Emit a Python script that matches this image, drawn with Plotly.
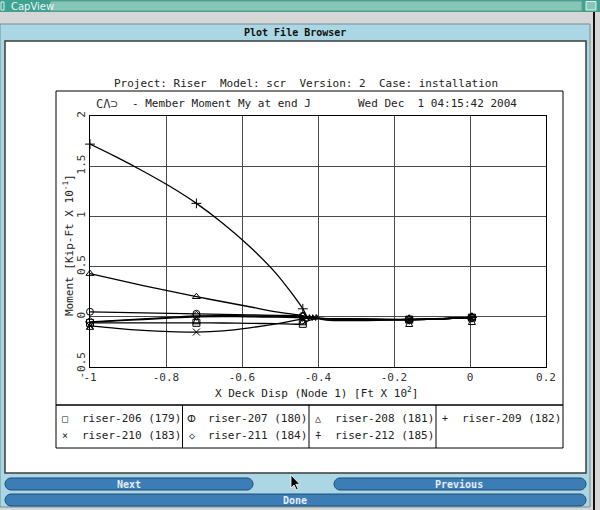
import plotly.graph_objects as go

# ---------------- data ----------------
X_DISP = [-1.0, -0.93, -0.86, -0.79, -0.72, -0.65, -0.58, -0.51, -0.44,
          -0.432, -0.424, -0.423, -0.415, -0.414, -0.406, -0.405, -0.395,
          -0.16, 0.005]
MARKER_IDX = [0, 4, 8, 17, 18]

SERIES_NAMES = ["riser-206 (179)", "riser-207 (180)", "riser-208 (181)", "riser-209 (182)",
                "riser-210 (183)", "riser-211 (184)", "riser-212 (185)"]

RISER_206 = [-0.06, -0.06, -0.06, -0.06, -0.06, -0.062, -0.065, -0.068, -0.07,
             -0.05, -0.035, -0.035, -0.025, -0.025, -0.02, -0.02, -0.018, -0.028, -0.008]
RISER_207 = [0.05, 0.045, 0.04, 0.035, 0.03, 0.025, 0.02, 0.015, 0.01,
             0.005, 0.0, 0.0, -0.005, -0.005, -0.01, -0.01, -0.015, -0.026, -0.007]
RISER_208 = [0.43, 0.37, 0.31, 0.255, 0.20, 0.15, 0.10, 0.05, 0.01,
             0.0, -0.005, -0.005, -0.01, -0.01, -0.012, -0.012, -0.015, -0.027, -0.007]
RISER_209 = [1.72, 1.59, 1.45, 1.30, 1.13, 0.93, 0.70, 0.43, 0.08,
             0.02, -0.035, 0.02, -0.035, 0.02, -0.035, 0.02, -0.02, -0.027, -0.006]
RISER_210 = [-0.09, -0.115, -0.135, -0.148, -0.152, -0.14, -0.11, -0.07, -0.02,
             -0.015, -0.015, -0.015, -0.015, -0.016, -0.016, -0.017, -0.018, -0.028, -0.008]
RISER_211 = [-0.05, -0.035, -0.02, -0.005, 0.01, 0.012, 0.01, 0.006, 0.0,
             -0.005, -0.008, -0.008, -0.01, -0.01, -0.012, -0.012, -0.015, -0.027, -0.007]
RISER_212 = [-0.055, -0.04, -0.027, -0.012, 0.0, 0.002, 0.0, -0.004, -0.01,
             -0.01, -0.012, -0.012, -0.013, -0.013, -0.014, -0.014, -0.016, -0.027, -0.007]
SERIES_VALUES = [RISER_206, RISER_207, RISER_208, RISER_209, RISER_210, RISER_211, RISER_212]

X_TICKS = [-1, -0.8, -0.6, -0.4, -0.2, 0, 0.2]
X_TICK_LABELS = ["-1", "-0.8", "-0.6", "-0.4", "-0.2", "0", "0.2"]
Y_TICKS = [-0.5, 0, 0.5, 1, 1.5, 2]
Y_TICK_LABELS = ["-0.5", "0", "0.5", "1", "1.5", "2"]

PROJECT_LINE = "Project: Riser  Model: scr  Version: 2  Case: installation"
PLOT_TITLE = "- Member Moment My at end J"
TIMESTAMP = "Wed Dec  1 04:15:42 2004"
X_TITLE = "X Deck Disp (Node 1) [Ft X 10<sup>2</sup>]"
Y_TITLE = "Moment [Kip-Ft X 10<sup>-1</sup>]"

# ---------------- styles ----------------
MARKER_SYMBOLS = ["square-open", "circle-open", "triangle-up-open", "cross-thin-open",
                  "x-thin-open", "diamond-open", "arrow-bar-up-open"]
LEGEND_GLYPHS = ["□", "ⵀ", "△", "+", "×", "◇", "⍏"]
MONO = "DejaVu Sans Mono"

W, H = 600, 510
PL, PR, PT, PB = 90, 546, 116, 367


def fx(p):
    return (p - PL) / (PR - PL)


def fy(p):
    return (PB - p) / (PB - PT)


def rect(x0, y0, x1, y1, fill=None, line=None, lw=1, layer="below"):
    return dict(type="rect", xref="paper", yref="paper",
                x0=fx(x0), x1=fx(x1), y0=fy(y1), y1=fy(y0),
                fillcolor=fill or "rgba(0,0,0,0)",
                line=dict(color=line or "rgba(0,0,0,0)", width=lw if line else 0),
                layer=layer)


def seg(x0, y0, x1, y1, color="black", lw=1, layer="above"):
    return dict(type="line", xref="paper", yref="paper",
                x0=fx(x0), y0=fy(y0), x1=fx(x1), y1=fy(y1),
                line=dict(color=color, width=lw), layer=layer)


def P(x, y):
    return f"{fx(x):.5f},{fy(y):.5f}"


def pill(x0, y0, x1, y1, fill, line):
    r = (y1 - y0) / 2
    k = 0.5523 * r
    ym = (y0 + y1) / 2
    d = (f"M{P(x0 + r, y0)} L{P(x1 - r, y0)} "
         f"C{P(x1 - r + k, y0)} {P(x1, ym - k)} {P(x1, ym)} "
         f"C{P(x1, ym + k)} {P(x1 - r + k, y1)} {P(x1 - r, y1)} "
         f"L{P(x0 + r, y1)} "
         f"C{P(x0 + r - k, y1)} {P(x0, ym + k)} {P(x0, ym)} "
         f"C{P(x0, ym - k)} {P(x0 + r - k, y0)} {P(x0 + r, y0)} Z")
    return dict(type="path", xref="paper", yref="paper", path=d,
                fillcolor=fill, line=dict(color=line, width=1), layer="above")


def text(x, y, s, size=11, color="#222", anchor="left", family=MONO, angle=0, bold=False):
    if bold:
        s = f"<b>{s}</b>"
    return dict(xref="paper", yref="paper", x=fx(x), y=fy(y), text=s,
                showarrow=False, xanchor=anchor, yanchor="middle", textangle=angle,
                font=dict(family=family, size=size, color=color), borderpad=0)


fig = go.Figure()

# lines
for vals in SERIES_VALUES:
    fig.add_trace(go.Scatter(x=X_DISP, y=vals, mode="lines",
                             line=dict(color="black", width=1.3, shape="spline", smoothing=0.9),
                             showlegend=False, hoverinfo="skip", cliponaxis=False))
# markers
for vals, sym in zip(SERIES_VALUES, MARKER_SYMBOLS):
    fig.add_trace(go.Scatter(x=[X_DISP[i] for i in MARKER_IDX], y=[vals[i] for i in MARKER_IDX],
                             mode="markers",
                             marker=dict(symbol=sym, size=7, color="black",
                                         line=dict(width=1, color="black")),
                             showlegend=False, hoverinfo="skip", cliponaxis=False))

shapes = []
# window chrome
shapes.append(rect(0, 0, 600, 12, fill="#3fa291"))
shapes.append(rect(50, 1, 582, 11, fill="#86c6b6", line="#5c9f92", lw=1))
shapes.append(rect(586, 1.5, 596, 10, fill="#86c6b6", line="#e0f0ea", lw=1))
shapes.append(rect(1, 2, 4, 10, line="#e0f0ea", lw=1))
shapes.append(rect(0, 24, 590, 507, fill="#abd7e4", line="#6f8f99", lw=1))
shapes.append(rect(5, 41, 586, 473, fill="white", line="#3c3c3c", lw=1.5))
shapes.append(seg(594, 12, 594, 510, color="#111", lw=2, layer="below"))

# plot frame boxes
shapes.append(rect(56, 91, 563, 405, line="black", lw=1))
shapes.append(rect(56, 405, 563, 448, line="black", lw=1))
for xc in [182.5, 309, 436]:
    shapes.append(seg(xc, 405, xc, 448, lw=1))

# buttons
shapes.append(pill(5, 478, 253, 490, "#3d7db5", "#1e4d78"))
shapes.append(pill(334, 478, 586, 490, "#3d7db5", "#1e4d78"))
shapes.append(pill(5, 494, 586, 506, "#3d7db5", "#1e4d78"))

# mouse cursor
cur = [(291, 475), (291, 488), (294, 485), (296.5, 490), (298.3, 489.2), (295.8, 484.3), (299.8, 484.3)]
cpath = "M" + " L".join(P(x, y) for x, y in cur) + " Z"
shapes.append(dict(type="path", xref="paper", yref="paper", path=cpath,
                   fillcolor="black", line=dict(color="white", width=0.8), layer="above"))

annotations = []
annotations.append(text(9.5, 6.5, "CapView", size=10, color="#eef7f4", family="DejaVu Sans"))
annotations.append(text(295, 32, "Plot File Browser", size=10, anchor="center", bold=True, color="#111"))
annotations.append(text(306, 84, PROJECT_LINE, anchor="center"))
annotations.append(text(95, 103.5, "CΛ⊃", size=12, color="#333"))
annotations.append(text(131, 103.5, PLOT_TITLE))
annotations.append(text(357, 103.5, TIMESTAMP))
annotations.append(text(316, 392, X_TITLE, anchor="center"))
annotations.append(text(68, 245, Y_TITLE, anchor="center", angle=-90))

# legend table
COL_LEFT = [56, 182.5, 309, 436]
ROW_Y = [418, 435]
for i, (name, glyph) in enumerate(zip(SERIES_NAMES, LEGEND_GLYPHS)):
    c, r = i % 4, i // 4
    annotations.append(text(COL_LEFT[c] + 9, ROW_Y[r], glyph, size=10, anchor="center"))
    annotations.append(text(COL_LEFT[c] + 24.5, ROW_Y[r], name))

# buttons text
annotations.append(text(129, 484, "Next", size=10, anchor="center", bold=True, color="#e4ecf5"))
annotations.append(text(459, 484, "Previous", size=10, anchor="center", bold=True, color="#e4ecf5"))
annotations.append(text(295, 500, "Done", size=10, anchor="center", bold=True, color="#e4ecf5"))

fig.update_layout(
    width=W, height=H,
    margin=dict(l=PL, r=W - PR, t=PT, b=H - PB, pad=0),
    paper_bgcolor="#d6d6d6",
    plot_bgcolor="white",
    shapes=shapes,
    annotations=annotations,
    showlegend=False,
    xaxis=dict(range=[-1, 0.2], tickvals=X_TICKS, ticktext=X_TICK_LABELS,
               showgrid=True, gridcolor="#4a4a4a", gridwidth=1, zeroline=False,
               showline=True, mirror=True, linecolor="black", linewidth=1.2,
               ticks="", tickfont=dict(family=MONO, size=11, color="#333")),
    yaxis=dict(range=[-0.5, 2], tickvals=Y_TICKS, ticktext=Y_TICK_LABELS,
               showgrid=True, gridcolor="#4a4a4a", gridwidth=1, zeroline=False,
               showline=True, mirror=True, linecolor="black", linewidth=1.2,
               ticks="", tickangle=-90, tickfont=dict(family=MONO, size=11, color="#333")),
)

fig.write_html("out.html")
